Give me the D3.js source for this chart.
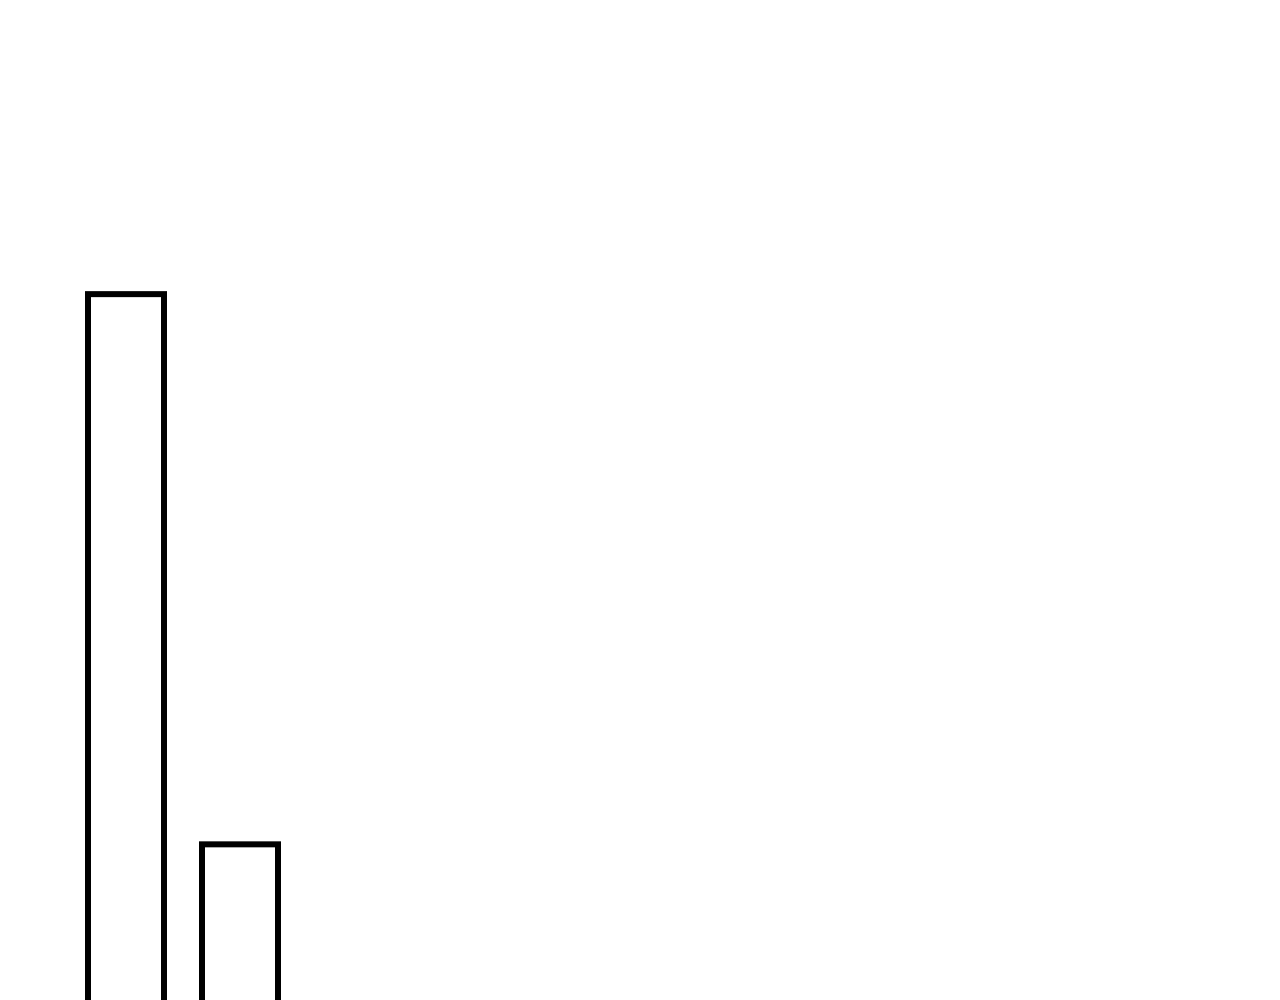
<!DOCTYPE html>
<html>
<head>
<meta charset="utf-8">
<script src="https://d3js.org/d3.v7.min.js"></script>
<style>
  body { margin: 0; background: #fff; overflow: hidden; }
  svg { display: block; }
</style>
</head>
<body>
<div id="chart"></div>
<script>
// data (baseline sits below the visible area)
const categories = ["A", "B"];
const values = [280, 100];

const width = 1280,
      height = 1000;

// plot area, the baseline is lower than the window so the bars run off the bottom
const dims = { left: 88, right: 278, top: 233, base: 1150 };

const svg = d3.select("#chart").append("svg")
    .attr("width", width)
    .attr("height", height);

const x = d3.scaleBand()
    .domain(categories)
    .range([dims.left, dims.right])
    .paddingInner(1 / 3)
    .paddingOuter(0);

const y = d3.scaleLinear()
    .domain([0, 300])
    .range([dims.base, dims.top]);

const data = categories.map((c, i) => ({ cat: c, val: values[i] }));

svg.selectAll(".bar")
    .data(data)
    .enter().append("rect")
    .attr("class", "bar")
    .attr("x", d => x(d.cat))
    .attr("y", d => y(d.val))
    .attr("width", x.bandwidth())
    .attr("height", d => y(0) - y(d.val))
    .attr("fill", "#fff")
    .attr("stroke", "#000")
    .attr("stroke-width", 6);
</script>
</body>
</html>
